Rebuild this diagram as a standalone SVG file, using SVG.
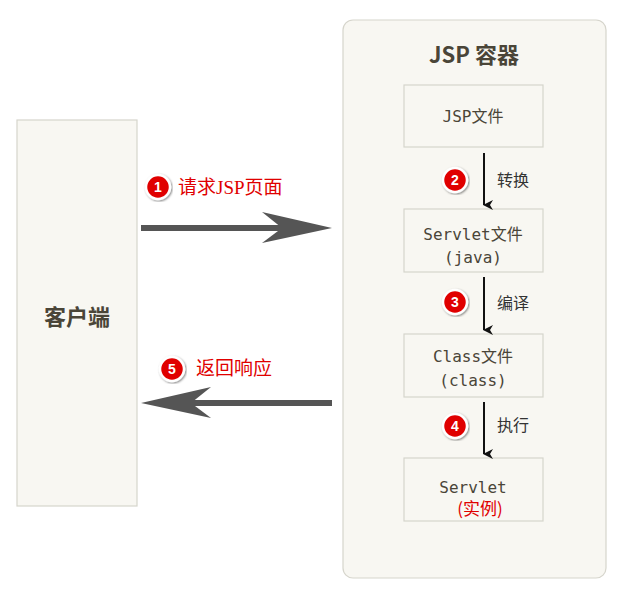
<svg xmlns="http://www.w3.org/2000/svg" width="623" height="595" viewBox="0 0 623 595">
<defs>
<style>
.box{fill:#f8f7f2;stroke:#d6d5cc;stroke-width:1.2}
.nt{font-family:"DejaVu Sans Mono","Noto Sans CJK SC",monospace;font-size:16px;fill:#4a4538;text-anchor:middle}
.lbl{font-family:"Noto Sans CJK SC",sans-serif;font-size:16px;fill:#333}
.red{font-family:"Liberation Serif","Noto Sans CJK SC",serif;font-size:19px;fill:#e00000}
.bc{fill:#e00000;stroke:#fff;stroke-width:2.5}
.bt{font-family:"Liberation Sans",sans-serif;font-weight:bold;font-size:14px;fill:#fff;text-anchor:middle}
</style>
<marker id="ah" markerWidth="10" markerHeight="10" refX="5" refY="9" orient="auto" markerUnits="userSpaceOnUse"><path d="M0,0 L5,10 L10,0 L5,3 Z" fill="#111"/></marker>
<filter id="sh"><feDropShadow dx="1" dy="1" stdDeviation="1.2" flood-opacity="0.5"/></filter>
</defs>
<rect width="623" height="595" fill="#fff"/>
<g id="client"><rect class="box" x="17" y="120" width="120" height="386"/><text x="77" y="325" text-anchor="middle" font-family="Noto Sans CJK SC,sans-serif" font-weight="bold" font-size="22" fill="#4a4538">客户端</text></g>
<g id="container"><rect class="box" x="343" y="20" width="263" height="558" rx="10"/><text x="474" y="63" text-anchor="middle" font-family="Noto Sans CJK SC,sans-serif" font-weight="bold" font-size="22" fill="#4a4538">JSP 容器</text></g>
<g id="jspfile"><rect class="box" x="404" y="85" width="139" height="62"/><text class="nt" x="473" y="122">JSP文件</text></g>
<g id="servletfile"><rect class="box" x="404" y="209" width="139" height="63"/><text class="nt" x="473" y="240">Servlet文件</text><text class="nt" x="473" y="263">(java)</text></g>
<g id="classfile"><rect class="box" x="404" y="334" width="139" height="63"/><text class="nt" x="473" y="362">Class文件</text><text class="nt" x="473" y="386">(class)</text></g>
<g id="servlet"><rect class="box" x="404" y="458" width="139" height="63"/><text class="nt" x="473" y="493">Servlet</text><text x="480" y="515" text-anchor="middle" font-family="Noto Sans CJK SC,sans-serif" font-size="17" fill="#e00000">(实例)</text></g>
<g id="connectors">
<path d="M141,228 H285" stroke="#555" stroke-width="6"/><path d="M262,212 L332,228 L262,243 L282,228 Z" fill="#555"/>
<path d="M332,403 H190" stroke="#555" stroke-width="6"/><path d="M211,387 L141,403 L211,418 L191,403 Z" fill="#555"/>
<line x1="484" y1="153" x2="484" y2="205" stroke="#111" stroke-width="2" marker-end="url(#ah)"/>
<line x1="484" y1="277" x2="484" y2="330" stroke="#111" stroke-width="2" marker-end="url(#ah)"/>
<line x1="484" y1="402" x2="484" y2="454" stroke="#111" stroke-width="2" marker-end="url(#ah)"/>
</g>
<g id="labels">
<circle class="bc" cx="158" cy="187" r="12" filter="url(#sh)"/><text class="bt" x="158" y="192">1</text><text class="red" x="178" y="194">请求JSP页面</text>
<circle class="bc" cx="172" cy="369" r="12" filter="url(#sh)"/><text class="bt" x="172" y="374">5</text><text class="red" x="196" y="375">返回响应</text>
<circle class="bc" cx="455" cy="180" r="12" filter="url(#sh)"/><text class="bt" x="455" y="185">2</text><text class="lbl" x="497" y="186">转换</text>
<circle class="bc" cx="455" cy="302" r="12" filter="url(#sh)"/><text class="bt" x="455" y="307">3</text><text class="lbl" x="497" y="309">编译</text>
<circle class="bc" cx="455" cy="426" r="12" filter="url(#sh)"/><text class="bt" x="455" y="431">4</text><text class="lbl" x="497" y="431">执行</text>
</g>
</svg>
